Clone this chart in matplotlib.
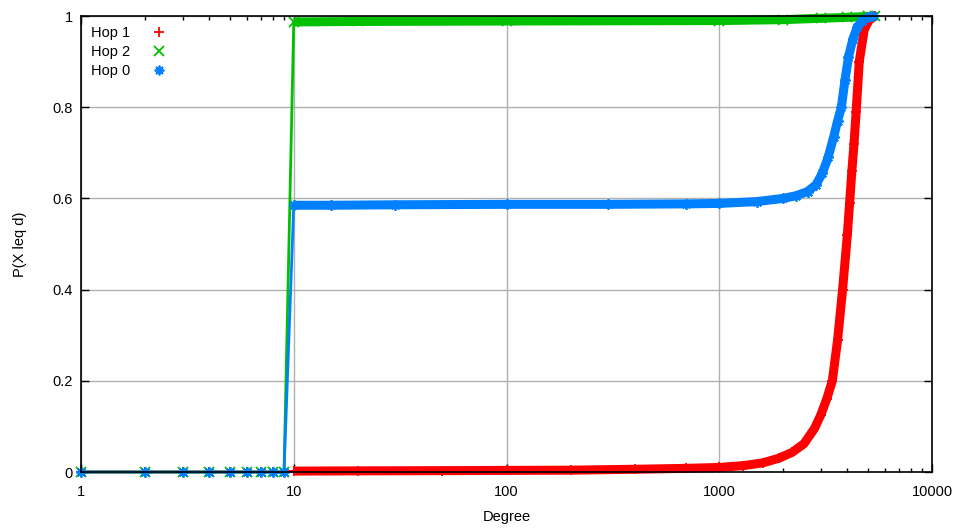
# CDF of node degree per hop, gnuplot-like look
import matplotlib.pyplot as plt
from matplotlib.lines import Line2D

plt.rcParams['font.family'] = ['Liberation Sans', 'DejaVu Sans']

# Hop 1 (red)
hop1_deg = [1, 2, 3, 4, 5, 6, 7, 8, 9, 10, 20, 50, 100, 200, 400, 700,
            1000, 1300, 1600, 1900, 2200, 2500, 2800, 3000, 3200, 3400,
            3600, 3800, 4000, 4100, 4200, 4300, 4400, 4550, 4800, 5050, 5400]
hop1_cdf = [0, 0, 0, 0, 0, 0, 0, 0, 0, 0.002, 0.0025, 0.003, 0.0035, 0.004,
            0.006, 0.008, 0.010, 0.014, 0.020, 0.030, 0.043, 0.062, 0.095,
            0.125, 0.160, 0.200, 0.290, 0.400, 0.520, 0.590, 0.660, 0.720,
            0.790, 0.900, 0.970, 0.990, 1.0]

# Hop 2 (green)
hop2_deg = [1, 2, 3, 4, 5, 6, 7, 8, 9, 10, 20, 100, 1000, 2000, 3000,
            4000, 5000, 5400]
hop2_cdf = [0, 0, 0, 0, 0, 0, 0, 0, 0, 0.987, 0.988, 0.989, 0.990, 0.992,
            0.995, 0.997, 0.999, 1.0]

# Hop 0 (blue)
hop0_deg = [1, 2, 3, 4, 5, 6, 7, 8, 9, 10, 15, 30, 100, 300, 700, 1000,
            1500, 2000, 2300, 2600, 2850, 3050, 3250, 3450, 3600, 3750,
            3900, 4050, 4250, 4450, 4700, 5000, 5300]
hop0_cdf = [0, 0, 0, 0, 0, 0, 0, 0, 0, 0.585, 0.585, 0.586, 0.587, 0.587,
            0.588, 0.589, 0.593, 0.600, 0.606, 0.615, 0.630, 0.655, 0.690,
            0.735, 0.770, 0.800, 0.860, 0.910, 0.950, 0.975, 0.990, 0.997,
            1.0]

series = [
    ('Hop 1', hop1_deg, hop1_cdf, '#ff0000', '+'),
    ('Hop 2', hop2_deg, hop2_cdf, '#00c000', 'x'),
    ('Hop 0', hop0_deg, hop0_cdf, '#0080ff', (8, 2, 0)),
]

fig = plt.figure(figsize=(9.6, 5.31), dpi=100)
ax = fig.add_axes([81 / 960, 1 - 472 / 531, 851 / 960, 456 / 531])

handles = []
for i, (name, xs, ys, color, mk) in enumerate(series):
    z = 3 + i
    ax.plot(xs, ys, color=color, lw=2, marker=mk, markersize=7.5, mew=1.3,
            clip_on=False, zorder=z)
    # dense points above degree 10 merge into a thick band
    start = xs.index(10)
    ax.plot(xs[start:], ys[start:], color=color, lw=6.5,
            solid_capstyle='butt', clip_on=False, zorder=z)
    handles.append(Line2D([], [], color=color, marker=mk, linestyle='none',
                          markersize=7, mew=1.3, label=name))

ax.set_xscale('log')
ax.set_xlim(1, 10000)
ax.set_ylim(0, 1)
ax.set_yticks([0, 0.2, 0.4, 0.6, 0.8, 1])
ax.set_yticklabels(['0', '0.2', '0.4', '0.6', '0.8', '1'])
ax.set_xticks([1, 10, 100, 1000, 10000])
ax.set_xticklabels(['1', '10', '100', '1000', '10000'])

ax.grid(True, which='major', color='#b0b0b0', lw=1)
ax.set_axisbelow(True)
ax.tick_params(which='both', direction='in', top=True, right=True,
               labelsize=10.5, colors='black')
ax.tick_params(which='major', length=6, width=1)
ax.tick_params(axis='x', which='major', pad=9)
ax.tick_params(axis='y', which='major', pad=6)
ax.tick_params(which='minor', length=3, width=1)
for sp in ax.spines.values():
    sp.set_linewidth(1.2)
    sp.set_zorder(10)

ax.set_xlabel('Degree', fontsize=10.5)
ax.xaxis.set_label_coords(0.5, -0.083)
ax.set_ylabel('P(X leq d)', fontsize=10.5)
ax.yaxis.set_label_coords(-0.064, 0.5)

ax.legend(handles=handles, loc='upper left', frameon=False,
          markerfirst=False, fontsize=10.5, handletextpad=1.2,
          labelspacing=0.35, borderaxespad=0.3, handlelength=1.5)

plt.savefig('out.png', dpi=100)
